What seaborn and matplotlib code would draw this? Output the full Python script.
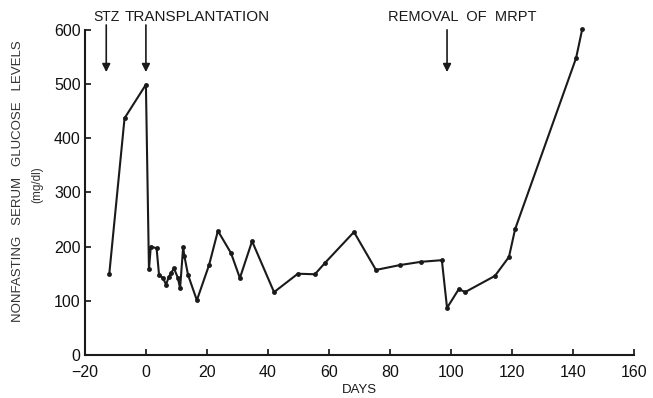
import pandas as pd
import matplotlib.pyplot as plt
import seaborn as sns

# Values
days = [-12, -7, 0, 1, 1.6, 3.5, 4.3, 5.6, 6.6, 7.5, 8.2, 9.2, 10.5, 11.2,
        12.2, 12.6, 13.8, 16.7, 20.7, 23.6, 27.9, 30.8, 34.8, 42, 49.8,
        55.4, 58.7, 68.2, 75.4, 83.3, 90.2, 97, 98.7, 102.6, 104.6, 114.4,
        119, 121, 141, 143]
glucose = [150, 437, 499, 158, 200, 197, 148, 142, 130, 144, 151, 160, 142,
           123, 199, 183, 148, 101, 166, 229, 188, 142, 210, 116, 150, 149,
           170, 227, 157, 166, 172, 175, 87, 122, 116, 146, 181, 232, 548, 601]

events = ["STZ", "TRANSPLANTATION", "REMOVAL  OF  MRPT"]
event_days = [-13, 0, 98.7]

xticks = [-20, 0, 20, 40, 60, 80, 100, 120, 140, 160]
yticks = [0, 100, 200, 300, 400, 500, 600]

df = pd.DataFrame({"Day": days, "Glucose": glucose})

sns.set_theme(style="ticks")
plt.rcParams["font.family"] = ["Liberation Sans", "DejaVu Sans"]

fig, ax = plt.subplots(figsize=(6.53, 3.98), dpi=100)
fig.subplots_adjust(left=0.130, right=0.971, top=0.925, bottom=0.108)

sns.lineplot(data=df, x="Day", y="Glucose", sort=False, color="#1a1a1a",
             linewidth=1.5, marker="o", markersize=3.5, markeredgewidth=0,
             ax=ax)
for line in ax.lines:
    line.set_clip_on(False)

ax.set_xlim(-20, 160)
ax.set_ylim(0, 600)
ax.set_xticks(xticks)
ax.set_xticklabels(["\u221220" if t < 0 else str(t) for t in xticks])
ax.set_yticks(yticks)
ax.tick_params(direction="in", length=4, width=1.2, labelsize=11.5,
               colors="#111111", pad=3)
ax.tick_params(axis="x", pad=7)
sns.despine(ax=ax)
for side in ["left", "bottom"]:
    ax.spines[side].set_linewidth(1.5)
    ax.spines[side].set_color("#1a1a1a")

ax.set_xlabel("DAYS", fontsize=9.5, labelpad=3, color="#1a1a1a")
ax.set_ylabel("")
fig.text(0.028, 0.545, "NONFASTING   SERUM   GLUCOSE   LEVELS", rotation=90,
         ha="center", va="center", fontsize=9.5, color="#333333")
fig.text(0.057, 0.535, "(mg/dl)", rotation=90, ha="center", va="center",
         fontsize=8.5, color="#333333")

# Event arrows and labels
tops = [609, 609, 600]
for name, d, top in zip(events, event_days, tops):
    ax.annotate("", xy=(d, 522), xytext=(d, top), annotation_clip=False,
                arrowprops=dict(arrowstyle="-|>", color="#1a1a1a", lw=1.2,
                                mutation_scale=12, shrinkA=0, shrinkB=0))
ax.text(-13, 624, "STZ", ha="center", va="center", fontsize=10,
        color="#1a1a1a", clip_on=False)
ax.text(-7.0, 624, "TRANSPLANTATION", ha="left", va="center",
        fontsize=11, color="#1a1a1a", clip_on=False)
ax.text(79.5, 624, "REMOVAL  OF  MRPT", ha="left", va="center", fontsize=10.5,
        color="#1a1a1a", clip_on=False)

fig.savefig("out.png", dpi=100)
